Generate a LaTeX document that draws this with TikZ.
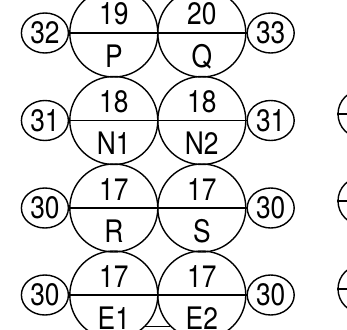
\documentclass[tikz,border=0pt]{standalone}
\usepackage{fontspec}
\setsansfont{TeX Gyre Heros}[FakeStretch=0.85]
\usetikzlibrary{calc,positioning,shapes.geometric}
\newcommand\numfont{\sffamily\fontsize{31}{31}\selectfont}
\tikzset{
  disc/.style={circle, draw, line width=1.4pt, minimum size=88pt, inner sep=0pt},
  tag/.style={ellipse, draw, line width=1.4pt, minimum width=47pt,
    minimum height=40pt, inner sep=0pt, font=\numfont},
  stub/.style={circle, draw, line width=1.4pt, minimum size=48pt, inner sep=0pt},
  num/.style={anchor=base, inner sep=0pt, font=\numfont},
  split/.style={line width=1.4pt}
}

\begin{document}
\begin{tikzpicture}[x=1pt,y=-1pt,node distance=0pt]
    \useasboundingbox (0,0) rectangle (347,329);
    \clip (0,0) rectangle (347,329);
    % big discs
    \node[disc] (P) at (113.8,33) {};
    \node[disc] (Q) at (201.8,33) {};
    \node[disc] (N1) at (113.8,120.5) {};
    \node[disc] (N2) at (201.8,120.5) {};
    \node[disc] (R) at (113.8,208) {};
    \node[disc] (S) at (201.8,208) {};
    \node[disc] (E1) at (113.8,295) {};
    \node[disc] (E2) at (201.8,295) {};
    \draw[split] (P.west) -- (Q.east);
    \draw[split] (N1.west) -- (N2.east);
    \draw[split] (R.west) -- (S.east);
    \draw[split] (E1.west) -- (E2.east);
    \draw[split] (E1.-45) -- (E2.-135);
    % numbers and letters
    \node[num] (Pn) at ($(P)+(0,-8)$) {19};
    \node[num] (Pl) at ($(P)+(0,34)$) {P};
    \node[num] (Qn) at ($(Q)+(0,-8)$) {20};
    \node[num] (Ql) at ($(Q)+(0,34)$) {Q};
    \node[num] (N1n) at ($(N1)+(0,-8)$) {18};
    \node[num] (N1l) at ($(N1)+(0,34)$) {N1};
    \node[num] (N2n) at ($(N2)+(0,-8)$) {18};
    \node[num] (N2l) at ($(N2)+(0,34)$) {N2};
    \node[num] (Rn) at ($(R)+(0,-8)$) {17};
    \node[num] (Rl) at ($(R)+(0,34)$) {R};
    \node[num] (Sn) at ($(S)+(0,-8)$) {17};
    \node[num] (Sl) at ($(S)+(0,34)$) {S};
    \node[num] (E1n) at ($(E1)+(0,-8)$) {17};
    \node[num] (E1l) at ($(E1)+(0,34)$) {E1};
    \node[num] (E2n) at ($(E2)+(0,-8)$) {17};
    \node[num] (E2l) at ($(E2)+(0,34)$) {E2};
    % side tags
    \node[tag,left=of P] (tP) {32};
    \node[tag,right=of Q] (tQ) {33};
    \node[tag,left=of N1] (tN1) {31};
    \node[tag,right=of N2] (tN2) {31};
    \node[tag,left=of R] (tR) {30};
    \node[tag,right=of S] (tS) {30};
    \node[tag,left=of E1] (tE1) {30};
    \node[tag,right=of E2] (tE2) {30};
    % cut-off discs at the edge
    \node[stub] (c1) at (362,114) {};
    \node[stub] (c2) at (362,201) {};
    \node[stub] (c3) at (362,289) {};
    \draw[split] (c1.west) -- (c1.east);
    \draw[split] (c2.west) -- (c2.east);
    \draw[split] (c3.west) -- (c3.east);
\end{tikzpicture}
\end{document}
